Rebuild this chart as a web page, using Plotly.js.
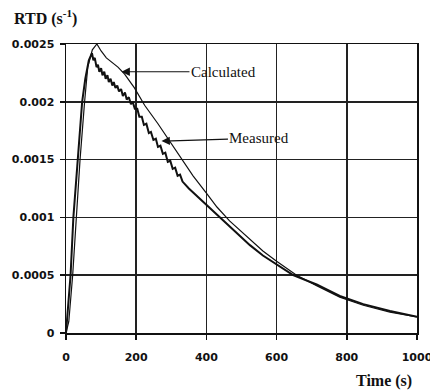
<!DOCTYPE html>
<html>
<head>
<meta charset="utf-8">
<script src="https://cdn.plot.ly/plotly-3.0.1.min.js"></script>
<style>html,body{margin:0;padding:0;background:#fff;}#chart{width:430px;height:392px;}</style>
</head>
<body>
<div id="chart"></div>
<script>
// Measured RTD (jagged experimental curve)
var measuredTime = [0, 5, 13, 21, 34, 46, 55, 65, 74, 78, 82, 87, 91, 95, 100, 104, 109, 113, 118, 122, 127, 132, 136, 141, 146, 151, 157, 162, 168, 173, 179, 185, 190, 196, 203, 209, 216, 222, 229, 236, 242, 249, 256, 262, 269, 276, 283, 290, 297, 304, 311, 318, 325, 332, 350, 371, 400, 438, 486, 524, 561, 600, 647, 714, 780, 847, 923, 1000];
var measuredRTD = [0, 0.0002, 0.0005, 0.001, 0.0015, 0.002, 0.0022, 0.00236, 0.00242, 0.00236, 0.00238, 0.0023, 0.00232, 0.00226, 0.00229, 0.00223, 0.00226, 0.0022, 0.00223, 0.00217, 0.0022, 0.00214, 0.00217, 0.00212, 0.00214, 0.00209, 0.00211, 0.00205, 0.00208, 0.00202, 0.00204, 0.00198, 0.002, 0.00194, 0.00194, 0.00187, 0.00187, 0.0018, 0.00181, 0.00173, 0.00174, 0.00167, 0.00168, 0.00161, 0.00162, 0.00155, 0.00156, 0.00148, 0.00149, 0.00142, 0.00143, 0.00136, 0.00137, 0.00131, 0.00125, 0.00119, 0.00111, 0.001, 0.00086, 0.00076, 0.00067, 0.00059, 0.0005, 0.00042, 0.00032, 0.00025, 0.00019, 0.00014];

// Calculated RTD (smooth model curve)
var calculatedTime = [0, 8, 19, 29, 40, 53, 62, 75, 88, 100, 115, 148, 167, 195, 224, 262, 295, 330, 362, 400, 430, 466, 495, 514, 561, 600, 657, 714, 780, 847, 923, 1000];
var calculatedRTD = [0, 0.0001, 0.0005, 0.001, 0.0015, 0.002, 0.0023, 0.00245, 0.0025, 0.00244, 0.00238, 0.0023, 0.00224, 0.00212, 0.00197, 0.00181, 0.00166, 0.0015, 0.00136, 0.00121, 0.00109, 0.00097, 0.00089, 0.00084, 0.00071, 0.00062, 0.0005, 0.00041, 0.00031, 0.00024, 0.00018, 0.00014];

var xTickVals = [0, 200, 400, 600, 800, 1000];
var xTickText = ["0", "200", "400", "600", "800", "1000"];
var yTickVals = [0, 0.0005, 0.001, 0.0015, 0.002, 0.0025];
var yTickText = ["0", "0.0005", "0.001", "0.0015", "0.002", "0.0025"];

var tickFont = {family: "DejaVu Sans", size: 11, color: "#111", weight: "bold"};
var serif = "Liberation Serif, Times New Roman, serif";

var traces = [
  {x: calculatedTime, y: calculatedRTD, mode: "lines", name: "Calculated",
   line: {color: "#111", width: 1.2}},
  {x: measuredTime, y: measuredRTD, mode: "lines", name: "Measured",
   line: {color: "#111", width: 2}}
];

var axisCommon = {
  showgrid: true, gridcolor: "#222", gridwidth: 1.5,
  showline: true, linecolor: "#111", linewidth: 1.5, mirror: true,
  ticks: "outside", ticklen: 5, tickwidth: 1.5, tickcolor: "#111",
  zeroline: false, tickfont: tickFont, tickmode: "array",
  ticklabeloverflow: "allow"
};

var layout = {
  width: 430, height: 392,
  margin: {l: 66, r: 13, t: 44, b: 59},
  paper_bgcolor: "#fff", plot_bgcolor: "#fff",
  showlegend: false,
  xaxis: Object.assign({}, axisCommon, {range: [0, 1000], tickvals: xTickVals, ticktext: xTickText, ticklabelstandoff: 8}),
  yaxis: Object.assign({}, axisCommon, {range: [0, 0.0025], tickvals: yTickVals, ticktext: yTickText, ticklabelstandoff: 3}),
  annotations: [
    {x: 158, y: 0.00226, xref: "x", yref: "y", text: "Calculated", showarrow: true,
     ax: 102, ay: 0, arrowhead: 2, arrowsize: 1.4, arrowwidth: 1.2, arrowcolor: "#111",
     font: {family: serif, size: 15, color: "#111"}},
    {x: 272, y: 0.00166, xref: "x", yref: "y", text: "Measured", showarrow: true,
     ax: 98, ay: -3, arrowhead: 2, arrowsize: 1.4, arrowwidth: 1.2, arrowcolor: "#111",
     font: {family: serif, size: 15, color: "#111"}},
    {x: -0.153, y: 1.09, xref: "paper", yref: "paper", xanchor: "left", yanchor: "middle",
     text: "<b>RTD (s<sup>-1</sup>)</b>", showarrow: false,
     font: {family: serif, size: 16, color: "#111"}},
    {x: 0.991, y: -0.167, xref: "paper", yref: "paper", xanchor: "right", yanchor: "middle",
     text: "<b>Time (s)</b>", showarrow: false,
     font: {family: serif, size: 16, color: "#111"}}
  ]
};

Plotly.newPlot("chart", traces, layout, {displayModeBar: false, staticPlot: true});
</script>
</body>
</html>
